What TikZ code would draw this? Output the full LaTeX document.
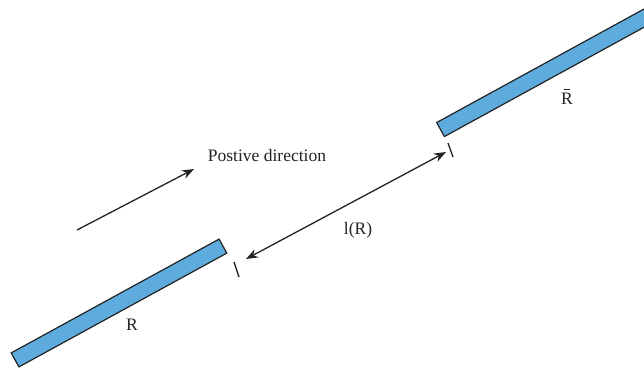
\documentclass[tikz,border=0pt]{standalone}
\usepackage{fontspec}
\setmainfont{Liberation Serif}
\usetikzlibrary{arrows.meta}
\definecolor{barblue}{RGB}{94,172,222}
\definecolor{ink}{RGB}{35,35,35}
\tikzset{
  bar/.style={draw=ink, line width=1.2pt, fill=barblue, rectangle, inner sep=0pt, minimum height=16pt, rotate=28.7},
  lbl/.style={text=ink, font=\fontsize{17.5}{19}\selectfont, inner sep=0pt},
  arr/.style={draw=ink, line width=1.3pt, -{Stealth[length=12pt,width=9pt]}},
  darr/.style={draw=ink, line width=1.3pt, {Stealth[length=12pt,width=9pt]}-{Stealth[length=12pt,width=9pt]}},
  tick/.style={draw=ink, line width=1.3pt}
}
\begin{document}
\begin{tikzpicture}[x=1pt,y=-1pt]
\useasboundingbox (0,0) rectangle (644,368);
\fill[white] (0,0) rectangle (644,368);
\begin{scope}
\clip (0,0) rectangle (644,368);
\node[bar, minimum width=237pt] (R) at (119,303) {};
\node[bar, minimum width=300pt] (Rb) at (572.1,57.5) {};
\end{scope}
\node[lbl] (Rlab) at (132,325) {R};
\node[lbl] (Rblab) at (567,99) {R};
\draw[ink, line width=1.1pt] ([xshift=-3pt,yshift=4pt]Rblab.north) -- ([xshift=3pt,yshift=4pt]Rblab.north);
\node[lbl] (pos) at (267,156) {Postive direction};
\node[lbl] (lR) at (358,230) {l(R)};
\coordinate (p1) at (77,230);
\coordinate (p2) at (194,169);
\draw[arr] (p1) -- (p2);
\coordinate (a1) at (246,259);
\coordinate (a2) at (446,152);
\draw[darr] (a1) -- (a2);
\coordinate (t1a) at (234,262);
\coordinate (t1b) at (239,277);
\draw[tick] (t1a) -- (t1b);
\coordinate (t2a) at (448,143);
\coordinate (t2b) at (453,157);
\draw[tick] (t2a) -- (t2b);
\end{tikzpicture}
\end{document}
